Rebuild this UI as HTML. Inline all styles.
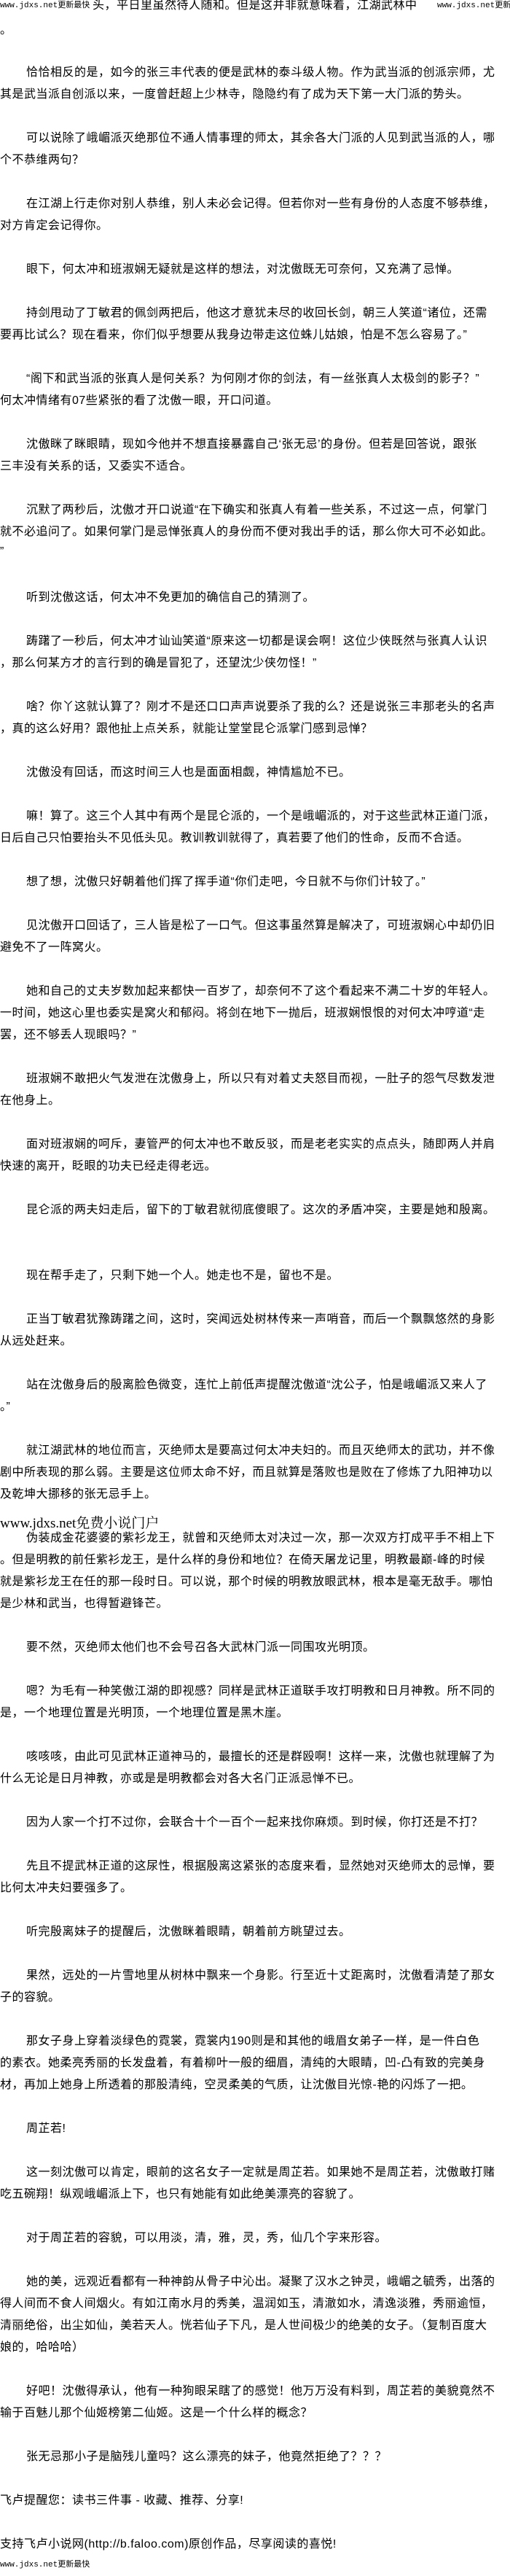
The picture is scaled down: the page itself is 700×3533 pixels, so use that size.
<!DOCTYPE html>
<html><head><meta charset="utf-8">
<style>
html,body{margin:0;padding:0;background:#fff;}
body{width:700px;height:3530px;position:relative;overflow:hidden;font-family:"Liberation Sans","WenQuanYi Zen Hei","Noto Sans CJK SC",sans-serif;color:#000;}
.l{position:absolute;left:0;height:30px;line-height:30px;font-size:16px;letter-spacing:0.5px;white-space:nowrap;}
.i{left:36px;}
.s{font-size:11px;letter-spacing:0;font-family:"Liberation Mono","WenQuanYi Zen Hei",monospace;}
.ad{font-family:"Liberation Serif","Noto Serif CJK SC",serif;font-size:19px;letter-spacing:0;}
</style></head><body>
<div class="l s" style="top:-7px">www.jdxs.net更新最快</div>
<div class="l" style="top:-7px;left:127px">头，平日里虽然待人随和。但是这并非就意味着，江湖武林中</div>
<div class="l s" style="top:-7px;left:600px;background:#fff">www.jdxs.net更新最快</div>
<div class="l" style="top:27px">。</div>
<div class="l i" style="top:85px">恰恰相反的是，如今的张三丰代表的便是武林的泰斗级人物。作为武当派的创派宗师，尤</div>
<div class="l" style="top:115px">其是武当派自创派以来，一度曾赶超上少林寺，隐隐约有了成为天下第一大门派的势头。</div>
<div class="l i" style="top:175px">可以说除了峨嵋派灭绝那位不通人情事理的师太，其余各大门派的人见到武当派的人，哪</div>
<div class="l" style="top:205px">个不恭维两句？</div>
<div class="l i" style="top:265px">在江湖上行走你对别人恭维，别人未必会记得。但若你对一些有身份的人态度不够恭维，</div>
<div class="l" style="top:295px">对方肯定会记得你。</div>
<div class="l i" style="top:355px">眼下，何太冲和班淑娴无疑就是这样的想法，对沈傲既无可奈何，又充满了忌惮。</div>
<div class="l i" style="top:415px">持剑甩动了丁敏君的佩剑两把后，他这才意犹未尽的收回长剑，朝三人笑道“诸位，还需</div>
<div class="l" style="top:445px">要再比试么？现在看来，你们似乎想要从我身边带走这位蛛儿姑娘，怕是不怎么容易了。”</div>
<div class="l i" style="top:505px">“阁下和武当派的张真人是何关系？为何刚才你的剑法，有一丝张真人太极剑的影子？”</div>
<div class="l" style="top:535px">何太冲情绪有07些紧张的看了沈傲一眼，开口问道。</div>
<div class="l i" style="top:595px">沈傲眯了眯眼睛，现如今他并不想直接暴露自己‘张无忌’的身份。但若是回答说，跟张</div>
<div class="l" style="top:625px">三丰没有关系的话，又委实不适合。</div>
<div class="l i" style="top:685px">沉默了两秒后，沈傲才开口说道“在下确实和张真人有着一些关系，不过这一点，何掌门</div>
<div class="l" style="top:715px">就不必追问了。如果何掌门是忌惮张真人的身份而不便对我出手的话，那么你大可不必如此。</div>
<div class="l" style="top:742px">”</div>
<div class="l i" style="top:805px">听到沈傲这话，何太冲不免更加的确信自己的猜测了。</div>
<div class="l i" style="top:865px">踌躇了一秒后，何太冲才讪讪笑道“原来这一切都是误会啊！这位少侠既然与张真人认识</div>
<div class="l" style="top:895px">，那么何某方才的言行到的确是冒犯了，还望沈少侠勿怪！”</div>
<div class="l i" style="top:955px">啥？你丫这就认算了？刚才不是还口口声声说要杀了我的么？还是说张三丰那老头的名声</div>
<div class="l" style="top:985px">，真的这么好用？跟他扯上点关系，就能让堂堂昆仑派掌门感到忌惮？</div>
<div class="l i" style="top:1045px">沈傲没有回话，而这时间三人也是面面相觑，神情尴尬不已。</div>
<div class="l i" style="top:1105px">嘛！算了。这三个人其中有两个是昆仑派的，一个是峨嵋派的，对于这些武林正道门派，</div>
<div class="l" style="top:1135px">日后自己只怕要抬头不见低头见。教训教训就得了，真若要了他们的性命，反而不合适。</div>
<div class="l i" style="top:1195px">想了想，沈傲只好朝着他们挥了挥手道“你们走吧，今日就不与你们计较了。”</div>
<div class="l i" style="top:1255px">见沈傲开口回话了，三人皆是松了一口气。但这事虽然算是解决了，可班淑娴心中却仍旧</div>
<div class="l" style="top:1285px">避免不了一阵窝火。</div>
<div class="l i" style="top:1345px">她和自己的丈夫岁数加起来都快一百岁了，却奈何不了这个看起来不满二十岁的年轻人。</div>
<div class="l" style="top:1375px">一时间，她这心里也委实是窝火和郁闷。将剑在地下一抛后，班淑娴恨恨的对何太冲哼道“走</div>
<div class="l" style="top:1405px">罢，还不够丢人现眼吗？”</div>
<div class="l i" style="top:1465px">班淑娴不敢把火气发泄在沈傲身上，所以只有对着丈夫怒目而视，一肚子的怨气尽数发泄</div>
<div class="l" style="top:1495px">在他身上。</div>
<div class="l i" style="top:1555px">面对班淑娴的呵斥，妻管严的何太冲也不敢反驳，而是老老实实的点点头，随即两人并肩</div>
<div class="l" style="top:1585px">快速的离开，眨眼的功夫已经走得老远。</div>
<div class="l i" style="top:1645px">昆仑派的两夫妇走后，留下的丁敏君就彻底傻眼了。这次的矛盾冲突，主要是她和殷离。</div>
<div class="l i" style="top:1735px">现在帮手走了，只剩下她一个人。她走也不是，留也不是。</div>
<div class="l i" style="top:1795px">正当丁敏君犹豫踌躇之间，这时，突闻远处树林传来一声哨音，而后一个飘飘悠然的身影</div>
<div class="l" style="top:1825px">从远处赶来。</div>
<div class="l i" style="top:1885px">站在沈傲身后的殷离脸色微变，连忙上前低声提醒沈傲道“沈公子，怕是峨嵋派又来人了</div>
<div class="l" style="top:1915px">。”</div>
<div class="l i" style="top:1975px">就江湖武林的地位而言，灭绝师太是要高过何太冲夫妇的。而且灭绝师太的武功，并不像</div>
<div class="l" style="top:2005px">剧中所表现的那么弱。主要是这位师太命不好，而且就算是落败也是败在了修炼了九阳神功以</div>
<div class="l" style="top:2035px">及乾坤大挪移的张无忌手上。</div>
<div class="l ad" style="top:2075px">www.jdxs.net免费小说门户</div>
<div class="l i" style="top:2095px">伪装成金花婆婆的紫衫龙王，就曾和灭绝师太对决过一次，那一次双方打成平手不相上下</div>
<div class="l" style="top:2125px">。但是明教的前任紫衫龙王，是什么样的身份和地位？在倚天屠龙记里，明教最巅-峰的时候</div>
<div class="l" style="top:2155px">就是紫衫龙王在任的那一段时日。可以说，那个时候的明教放眼武林，根本是毫无敌手。哪怕</div>
<div class="l" style="top:2185px">是少林和武当，也得暂避锋芒。</div>
<div class="l i" style="top:2245px">要不然，灭绝师太他们也不会号召各大武林门派一同围攻光明顶。</div>
<div class="l i" style="top:2305px">嗯？为毛有一种笑傲江湖的即视感？同样是武林正道联手攻打明教和日月神教。所不同的</div>
<div class="l" style="top:2335px">是，一个地理位置是光明顶，一个地理位置是黑木崖。</div>
<div class="l i" style="top:2395px">咳咳咳，由此可见武林正道神马的，最擅长的还是群殴啊！这样一来，沈傲也就理解了为</div>
<div class="l" style="top:2425px">什么无论是日月神教，亦或是是明教都会对各大名门正派忌惮不已。</div>
<div class="l i" style="top:2485px">因为人家一个打不过你，会联合十个一百个一起来找你麻烦。到时候，你打还是不打？</div>
<div class="l i" style="top:2545px">先且不提武林正道的这尿性，根据殷离这紧张的态度来看，显然她对灭绝师太的忌惮，要</div>
<div class="l" style="top:2575px">比何太冲夫妇要强多了。</div>
<div class="l i" style="top:2635px">听完殷离妹子的提醒后，沈傲眯着眼睛，朝着前方眺望过去。</div>
<div class="l i" style="top:2695px">果然，远处的一片雪地里从树林中飘来一个身影。行至近十丈距离时，沈傲看清楚了那女</div>
<div class="l" style="top:2725px">子的容貌。</div>
<div class="l i" style="top:2785px">那女子身上穿着淡绿色的霓裳，霓裳内190则是和其他的峨眉女弟子一样，是一件白色</div>
<div class="l" style="top:2815px">的素衣。她柔亮秀丽的长发盘着，有着柳叶一般的细眉，清纯的大眼睛，凹-凸有致的完美身</div>
<div class="l" style="top:2845px">材，再加上她身上所透着的那股清纯，空灵柔美的气质，让沈傲目光惊-艳的闪烁了一把。</div>
<div class="l i" style="top:2905px">周芷若!</div>
<div class="l i" style="top:2965px">这一刻沈傲可以肯定，眼前的这名女子一定就是周芷若。如果她不是周芷若，沈傲敢打赌</div>
<div class="l" style="top:2995px">吃五碗翔！纵观峨嵋派上下，也只有她能有如此绝美漂亮的容貌了。</div>
<div class="l i" style="top:3055px">对于周芷若的容貌，可以用淡，清，雅，灵，秀，仙几个字来形容。</div>
<div class="l i" style="top:3115px">她的美，远观近看都有一种神韵从骨子中沁出。凝聚了汉水之钟灵，峨嵋之毓秀，出落的</div>
<div class="l" style="top:3145px">得人间而不食人间烟火。有如江南水月的秀美，温润如玉，清澈如水，清逸淡雅，秀丽逾恒，</div>
<div class="l" style="top:3175px">清丽绝俗，出尘如仙，美若天人。恍若仙子下凡，是人世间极少的绝美的女子。（复制百度大</div>
<div class="l" style="top:3205px">娘的，哈哈哈）</div>
<div class="l i" style="top:3265px">好吧！沈傲得承认，他有一种狗眼呆瞎了的感觉！他万万没有料到，周芷若的美貌竟然不</div>
<div class="l" style="top:3295px">输于百魅儿那个仙姬榜第二仙姬。这是一个什么样的概念？</div>
<div class="l i" style="top:3355px">张无忌那小子是脑残儿童吗？这么漂亮的妹子，他竟然拒绝了？？？</div>
<div class="l" style="top:3415px">飞卢提醒您：读书三件事 - 收藏、推荐、分享!</div>
<div class="l" style="top:3475px">支持飞卢小说网(http://b.faloo.com)原创作品，尽享阅读的喜悦!</div>
<div class="l s" style="top:3503px">www.jdxs.net更新最快</div>
</body></html>
